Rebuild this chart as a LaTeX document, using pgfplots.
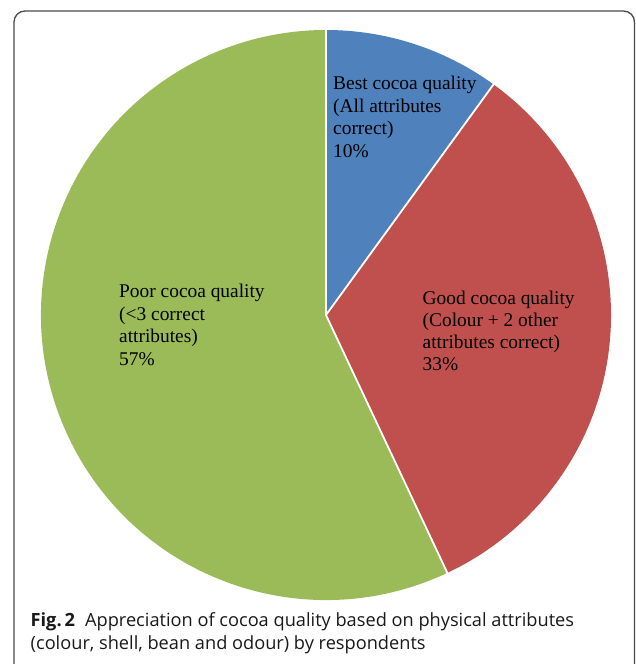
\documentclass[border=0pt]{standalone}
\usepackage{fontspec}
\setmainfont{Liberation Serif}
\newfontfamily\capfont{Open Sans}
\usepackage{pgfplots}
\pgfplotsset{compat=1.18}
\definecolor{bestblue}{HTML}{4F81BD}
\definecolor{goodred}{HTML}{C0504D}
\definecolor{poorgreen}{HTML}{9BBB59}
\definecolor{framegray}{HTML}{4A4A4A}
\begin{document}
\begin{tikzpicture}[x=1pt,y=1pt]
\path[use as bounding box] (0,0) rectangle (635,664);
% frame
\draw[framegray, line width=1.3pt, rounded corners=11pt] (14,-5) -- (14,653) -- (634.5,653) -- (634.5,-5);
\begin{axis}[at={(326pt,349pt)}, anchor=center, width=570pt, height=570pt,
  scale only axis, hide axis, xmin=-1, xmax=1, ymin=-1, ymax=1, clip=false]
% shares (percent): Best 10, Good 33, Poor 57
\fill[bestblue] (axis cs:0,0) -- ++(90:285pt) arc[start angle=90, delta angle={-3.6*10}, radius=285pt] -- cycle;
\fill[goodred] (axis cs:0,0) -- ++({90-3.6*10}:285pt) arc[start angle={90-3.6*10}, delta angle={-3.6*33}, radius=285pt] -- cycle;
\fill[poorgreen] (axis cs:0,0) -- ++({90-3.6*43}:285pt) arc[start angle={90-3.6*43}, delta angle={-3.6*57}, radius=285pt] -- cycle;
\draw[white, line width=1.8pt] (axis cs:0,0) -- ++(90:286pt);
\draw[white, line width=1.8pt] (axis cs:0,0) -- ++({90-3.6*10}:286pt);
\draw[white, line width=1.8pt] (axis cs:0,0) -- ++({90-3.6*43}:286pt);
\end{axis}
% slice labels
\begin{scope}[every node/.style={anchor=base west, inner sep=0pt, font=\fontsize{19.4}{22}\selectfont}]
\node at (333,{664-89.5}) {Best cocoa quality};
\node at (333,{664-112.2}) {(All attributes};
\node at (333,{664-135}) {correct)};
\node at (333,{664-157.7}) {10\%};
\node at (422.5,{664-304.5}) {Good cocoa quality};
\node at (422.5,{664-326.5}) {(Colour + 2 other};
\node at (422.5,{664-348.5}) {attributes correct)};
\node at (422.5,{664-370.5}) {33\%};
\node at (119,{664-297.7}) {Poor cocoa quality};
\node at (119,{664-320.2}) {(<3 correct};
\node at (119,{664-342.7}) {attributes)};
\node at (119,{664-365.2}) {57\%};
\end{scope}
% caption
\begin{scope}[every node/.style={anchor=base west, inner sep=0pt, text=black!90, font=\capfont\fontsize{18.2}{22}\selectfont}]
\node at (30.5,{664-627}) {\textbf{Fig.\,2}\hspace{10pt}Appreciation of cocoa quality based on physical attributes};
\node at (30.5,{664-650}) {(colour, shell, bean and odour) by respondents};
\end{scope}
\end{tikzpicture}
\end{document}
